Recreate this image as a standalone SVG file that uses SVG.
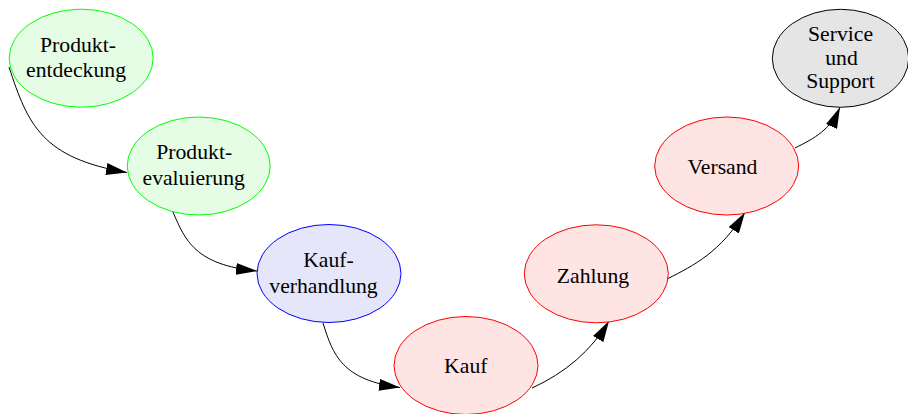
<svg xmlns="http://www.w3.org/2000/svg" width="908" height="414" viewBox="0 0 908 414">
<defs>
<style>
text{font-family:"Liberation Serif","Times New Roman",serif;font-size:21.7px;fill:#000;text-anchor:middle}
.g{fill:#e5fde5;stroke:#00ff00}
.b{fill:#e6e6fa;stroke:#0000ff}
.r{fill:#ffe4e4;stroke:#ff0000}
.k{fill:#e5e5e5;stroke:#000}
.e{fill:none;stroke:#000;stroke-width:1;marker-end:url(#ah)}
</style>
<marker id="ah" viewBox="0 0 21 12" refX="21" refY="6" markerWidth="21" markerHeight="12" markerUnits="userSpaceOnUse" orient="auto">
<path d="M0,0 L21,6 L0,12 Z" fill="#000"/>
</marker>
</defs>
<g id="connectors">
<path class="e" d="M9,67 C28,125 42,158 127,172.5"/>
<path class="e" d="M173,212 C185,240 195,265 257,271"/>
<path class="e" d="M323,323 C333,355 342,380 400,387.5"/>
<path class="e" d="M532,388 C565,373 591,351 609,321"/>
<path class="e" d="M667,279 C695,265 720,252 745,212.5"/>
<path class="e" d="M795,148 C815,138 830,130 840,107.3"/>
</g>
<g id="produktentdeckung">
<ellipse class="g" cx="81.2" cy="58.2" rx="72" ry="49"/>
<text x="78" y="52">Produkt-</text>
<text x="76" y="77">entdeckung</text>
</g>
<g id="produktevaluierung">
<ellipse class="g" cx="198.7" cy="166" rx="71.5" ry="49"/>
<text x="194.2" y="159.3">Produkt-</text>
<text x="193.7" y="185">evaluierung</text>
</g>
<g id="kaufverhandlung">
<ellipse class="b" cx="329" cy="273.5" rx="72" ry="49"/>
<text x="328.5" y="267.3">Kauf-</text>
<text x="323.5" y="292.7">verhandlung</text>
</g>
<g id="kauf">
<ellipse class="r" cx="466" cy="365.5" rx="72" ry="49"/>
<text x="465.8" y="372.7">Kauf</text>
</g>
<g id="zahlung">
<ellipse class="r" cx="596.3" cy="273.8" rx="72" ry="49"/>
<text x="593" y="282.7">Zahlung</text>
</g>
<g id="versand">
<ellipse class="r" cx="726.7" cy="166" rx="72" ry="49"/>
<text x="722.5" y="174">Versand</text>
</g>
<g id="service">
<ellipse class="k" cx="840.5" cy="58.3" rx="68.2" ry="49"/>
<text x="840.5" y="40.7">Service</text>
<text x="841.5" y="65">und</text>
<text x="840.5" y="88.3">Support</text>
</g>
</svg>
